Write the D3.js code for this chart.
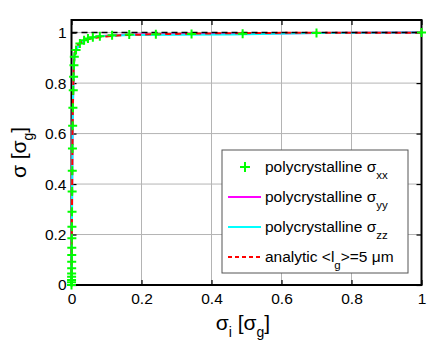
<!DOCTYPE html>
<html>
<head>
<meta charset="utf-8">
<script src="https://cdn.jsdelivr.net/npm/d3@7"></script>
<style>
  body { margin: 0; background: #fff; }
  svg { font-family: "Liberation Sans", Arial, sans-serif; }
</style>
</head>
<body>
<svg id="chart" width="435" height="348"></svg>
<script>
// polycrystalline sigma_xx (green markers)
const xxSigmaI = [0, 0.0001, 0.0002, 0.0003, 0.0004, 0.0005, 0.0006, 0.0007, 0.0008, 0.001, 0.0012, 0.0015,
  0.0018, 0.0022, 0.0027, 0.0033, 0.004, 0.005, 0.006, 0.007, 0.008, 0.013, 0.024, 0.036, 0.047, 0.061,
  0.081, 0.116, 0.165, 0.241, 0.343, 0.489, 0.70, 1.0];
const xxSigma = [0, 0.011, 0.02, 0.033, 0.046, 0.066, 0.092, 0.119, 0.148, 0.185, 0.231, 0.29,
  0.37, 0.453, 0.541, 0.631, 0.702, 0.772, 0.825, 0.871, 0.904, 0.931, 0.957, 0.970, 0.977, 0.982,
  0.986, 0.99, 0.993, 0.994, 0.995, 0.996, 0.998, 1.0];
// polycrystalline sigma_yy (magenta) and sigma_zz (cyan)
const yySigmaI = xxSigmaI;
const yySigma = xxSigma;
const zzSigmaI = [0, 0.001, 0.002, 0.003, 0.004, 0.005, 0.006, 0.008, 0.013, 0.024, 0.047, 0.081, 0.165, 0.3, 0.46, 0.7, 1.0];
const zzSigma = [0, 0.185, 0.41, 0.6, 0.702, 0.772, 0.825, 0.904, 0.931, 0.957, 0.977, 0.986, 0.991, 0.992, 0.993, 0.998, 1.0];
// analytic <l_g> = 5 um
const anSigmaI = [0, 0.0005, 0.001, 0.002, 0.003, 0.004, 0.006, 0.008, 0.011, 0.015, 0.02, 0.03, 0.05, 0.07, 0.1, 0.15, 0.25, 0.4, 0.6, 1.0];
const anSigma = [0, 0.1, 0.2, 0.42, 0.6, 0.72, 0.85, 0.9, 0.925, 0.945, 0.955, 0.963, 0.975, 0.98, 0.985, 0.99, 0.994, 0.997, 0.999, 1.0];
// reference line sigma = 1
const refSigmaI = [0, 1];
const refSigma = [1, 1];

const xTicks = [0, 0.2, 0.4, 0.6, 0.8, 1];
const yTicks = [0, 0.2, 0.4, 0.6, 0.8, 1];

const margin = { left: 71.5, right: 13.5, top: 20, bottom: 63 };
const width = 435, height = 348;

const svg = d3.select("#chart");

const x = d3.scaleLinear().domain([0, 1]).range([margin.left, width - margin.right]);
const y = d3.scaleLinear().domain([0, 1.05]).range([height - margin.bottom, margin.top]);

// grid
svg.append("g")
  .selectAll("line")
  .data(xTicks.slice(1, -1))
  .join("line")
  .attr("x1", d => x(d)).attr("x2", d => x(d))
  .attr("y1", y(0)).attr("y2", y(1.05))
  .attr("stroke", "#b4b4b4").attr("stroke-width", 1);

svg.append("g")
  .selectAll("line")
  .data(yTicks.slice(1))
  .join("line")
  .attr("x1", x(0)).attr("x2", x(1))
  .attr("y1", d => y(d)).attr("y2", d => y(d))
  .attr("stroke", "#b4b4b4").attr("stroke-width", 1);

// axes (MATLAB style, inward ticks on all sides)
const tickSize = 5;
svg.append("g")
  .attr("transform", `translate(0,${y(0)})`)
  .call(d3.axisBottom(x).tickValues(xTicks).tickSize(-tickSize).tickPadding(8).tickFormat(d3.format("~g")))
  .call(g => g.select(".domain").remove());
svg.append("g")
  .attr("transform", `translate(0,${y(1.05)})`)
  .call(d3.axisTop(x).tickValues(xTicks).tickSize(-tickSize).tickFormat(""))
  .call(g => g.select(".domain").remove());
svg.append("g")
  .attr("transform", `translate(${x(0)},0)`)
  .call(d3.axisLeft(y).tickValues(yTicks).tickSize(-tickSize).tickPadding(5).tickFormat(d3.format("~g")))
  .call(g => g.select(".domain").remove());
svg.append("g")
  .attr("transform", `translate(${x(1)},0)`)
  .call(d3.axisRight(y).tickValues(yTicks).tickSize(-tickSize).tickFormat(""))
  .call(g => g.select(".domain").remove());

svg.selectAll(".tick line").attr("stroke", "#000").attr("stroke-width", 1.2);
svg.selectAll(".tick text").attr("font-size", 15.5).attr("fill", "#000")
  .attr("font-family", "'Liberation Sans', Arial, sans-serif");

// frame
svg.append("rect")
  .attr("x", x(0)).attr("y", y(1.05))
  .attr("width", x(1) - x(0)).attr("height", y(0) - y(1.05))
  .attr("fill", "none").attr("stroke", "#000").attr("stroke-width", 2);

// data lines
const line = d3.line().x(d => x(d[0])).y(d => y(d[1]));
const pts = (a, b) => a.map((v, i) => [v, b[i]]);

svg.append("path").datum(pts(yySigmaI, yySigma)).attr("d", line)
  .attr("fill", "none").attr("stroke", "#ff00ff").attr("stroke-width", 2);
svg.append("path").datum(pts(zzSigmaI, zzSigma)).attr("d", line)
  .attr("fill", "none").attr("stroke", "#00ffff").attr("stroke-width", 2);
svg.append("path").datum(pts(anSigmaI, anSigma)).attr("d", line)
  .attr("fill", "none").attr("stroke", "#ff0000").attr("stroke-width", 2)
  .attr("stroke-dasharray", "6,4");
svg.append("path").datum(pts(refSigmaI, refSigma)).attr("d", line)
  .attr("fill", "none").attr("stroke", "#000").attr("stroke-width", 1.5)
  .attr("stroke-dasharray", "6,4");

// green + markers
const plus = (g, s) => g.append("path")
  .attr("d", `M${-s},0H${s}M0,${-s}V${s}`)
  .attr("stroke", "#00ff00").attr("stroke-width", 2).attr("fill", "none");

svg.append("g")
  .selectAll("g")
  .data(pts(xxSigmaI, xxSigma))
  .join("g")
  .attr("transform", d => `translate(${x(d[0])},${y(d[1])})`)
  .each(function () { plus(d3.select(this), 4.5); });

// axis labels
const xl = svg.append("text")
  .attr("x", 243).attr("y", 330)
  .attr("text-anchor", "middle").attr("font-size", 21);
xl.append("tspan").text("σ");
xl.append("tspan").attr("font-size", 14).attr("dy", 7).text("i");
xl.append("tspan").attr("dy", -7).text(" [σ");
xl.append("tspan").attr("font-size", 14).attr("dy", 7).text("g");
xl.append("tspan").attr("dy", -7).text("]");

const yl = svg.append("text")
  .attr("transform", `translate(26,${(y(0) + y(1.05)) / 2}) rotate(-90)`)
  .attr("text-anchor", "middle").attr("font-size", 21);
yl.append("tspan").text("σ [σ");
yl.append("tspan").attr("font-size", 14).attr("dy", 7).text("g");
yl.append("tspan").attr("dy", -7).text("]");

// legend
const legend = svg.append("g").attr("transform", "translate(222,150)");
legend.append("rect")
  .attr("width", 186).attr("height", 123)
  .attr("fill", "#fff").attr("stroke", "#555").attr("stroke-width", 1);

const legendItems = [
  { type: "marker", color: "#00ff00", label: "polycrystalline σ", sub: "xx" },
  { type: "line", color: "#ff00ff", label: "polycrystalline σ", sub: "yy" },
  { type: "line", color: "#00ffff", label: "polycrystalline σ", sub: "zz" },
  { type: "dash", color: "#ff0000", label: "analytic <l", sub: "g", after: ">=5 μm" }
];

legendItems.forEach((d, i) => {
  const row = legend.append("g").attr("transform", `translate(0,${17 + i * 30})`);
  if (d.type === "marker") {
    row.append("g").attr("transform", "translate(23,0)").call(g => plus(g, 5));
  } else {
    row.append("line").attr("x1", 6).attr("x2", 39).attr("y1", 0).attr("y2", 0)
      .attr("stroke", d.color).attr("stroke-width", 2)
      .attr("stroke-dasharray", d.type === "dash" ? "4,3" : null);
  }
  const t = row.append("text").attr("x", 43).attr("y", 5).attr("font-size", 15.5);
  t.append("tspan").text(d.label);
  t.append("tspan").attr("font-size", 11.5).attr("dy", 7).text(d.sub);
  if (d.after) t.append("tspan").attr("dy", -7).text(d.after);
});
</script>
</body>
</html>
